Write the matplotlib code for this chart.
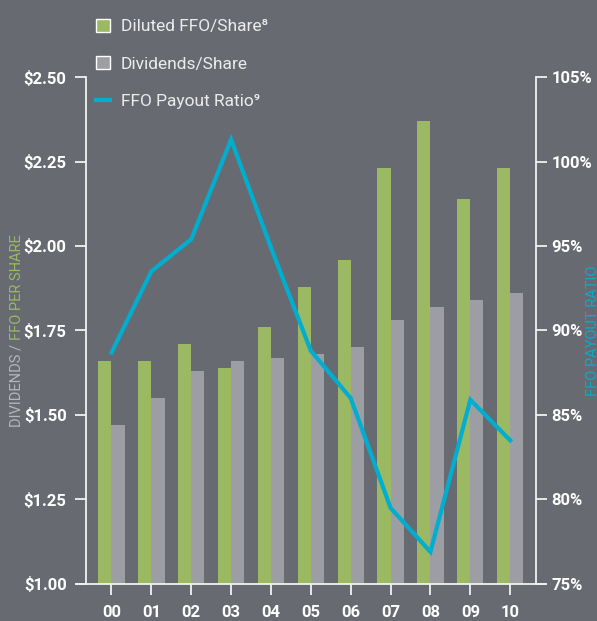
import matplotlib
matplotlib.use("Agg")
import matplotlib.pyplot as plt
from matplotlib.patches import Patch
from matplotlib.lines import Line2D
import numpy as np

plt.rcParams['font.family'] = ['Roboto', 'DejaVu Sans']

years = ["00", "01", "02", "03", "04", "05", "06", "07", "08", "09", "10"]
ffo_share = [1.66, 1.66, 1.71, 1.64, 1.76, 1.88, 1.96, 2.23, 2.37, 2.14, 2.23]
dividends_share = [1.47, 1.55, 1.63, 1.66, 1.67, 1.68, 1.70, 1.78, 1.82, 1.84, 1.86]
payout_ratio = [88.7, 93.5, 95.4, 101.3, 94.9, 88.8, 86.0, 79.5, 76.9, 85.9, 83.5]

left_ticks = [1.00, 1.25, 1.50, 1.75, 2.00, 2.25, 2.50]
right_ticks = [75, 80, 85, 90, 95, 100, 105]

bg = '#676b71'
green = '#9bb862'
grey = '#9d9ea3'
cyan = '#00aed0'
white = '#f2f2f2'

fig = plt.figure(figsize=(5.97, 6.21), dpi=100, facecolor=bg)
ax = fig.add_axes([0.144, 0.0596, 0.754, 0.8164])
ax.set_facecolor(bg)

x = np.arange(len(years))
w = 0.33
ax.bar(x - w / 2, ffo_share, w, color=green)
ax.bar(x + w / 2, dividends_share, w, color=grey)
ax.set_ylim(1.0, 2.5)
ax.set_xlim(-0.64, 10.65)
ax.set_xticks(x)
ax.set_xticklabels(years)
ax.set_yticks(left_ticks)
ax.set_yticklabels([f"${v:.2f}" for v in left_ticks])

for s in ['top', 'bottom', 'right']:
    ax.spines[s].set_visible(False)
ax.spines['left'].set_color(white)
ax.spines['left'].set_linewidth(1.3)
ax.tick_params(axis='y', colors=white, length=8, width=1.3, pad=6, labelsize=12)
ax.tick_params(axis='x', colors=white, length=8, width=1.3, pad=7, labelsize=12)
for lab in ax.get_yticklabels() + ax.get_xticklabels():
    lab.set_fontweight('bold')
    lab.set_color('white')

# bottom baseline extends past both spines
ax.add_line(Line2D([-0.02, 1.02], [0, 0], transform=ax.transAxes, color=white,
                   lw=1.3, clip_on=False))

ax2 = ax.twinx()
ax2.plot(x, payout_ratio, color=cyan, lw=3, solid_joinstyle='miter')
ax2.set_ylim(75, 105)
ax2.set_yticks(right_ticks)
ax2.set_yticklabels([f"{v}%" for v in right_ticks])
for s in ['top', 'bottom', 'left']:
    ax2.spines[s].set_visible(False)
ax2.spines['right'].set_color(white)
ax2.spines['right'].set_linewidth(1.3)
ax2.tick_params(axis='y', colors=white, length=8, width=1.3, pad=3, labelsize=12)
for lab in ax2.get_yticklabels():
    lab.set_fontweight('bold')
    lab.set_color('white')

# axis titles
fig.text(0.028, 0.452, "DIVIDENDS / ", rotation=90, color='#b4b6b9', fontsize=10.5,
         ha='center', va='top')
fig.text(0.028, 0.452, "FFO PER SHARE", rotation=90, color=green, fontsize=10.5,
         ha='center', va='bottom')
fig.text(0.994, 0.468, "FFO PAYOUT RATIO", rotation=90, color=cyan, fontsize=10.5,
         ha='center', va='center')

handles = [Patch(facecolor=green, edgecolor='white', lw=1),
           Patch(facecolor=grey, edgecolor='white', lw=1),
           Line2D([0], [0], color=cyan, lw=3)]
labels = ["Diluted FFO/Share\u2078", "Dividends/Share", "FFO Payout Ratio\u2079"]
leg = fig.legend(handles, labels, loc='upper left', bbox_to_anchor=(0.135, 0.995),
                 frameon=False, fontsize=12.5, handlelength=0.8, handleheight=0.8,
                 handletextpad=0.6, labelspacing=1.25)
for t in leg.get_texts():
    t.set_color('#ececec')

fig.savefig("out.png", dpi=100, facecolor=bg)
